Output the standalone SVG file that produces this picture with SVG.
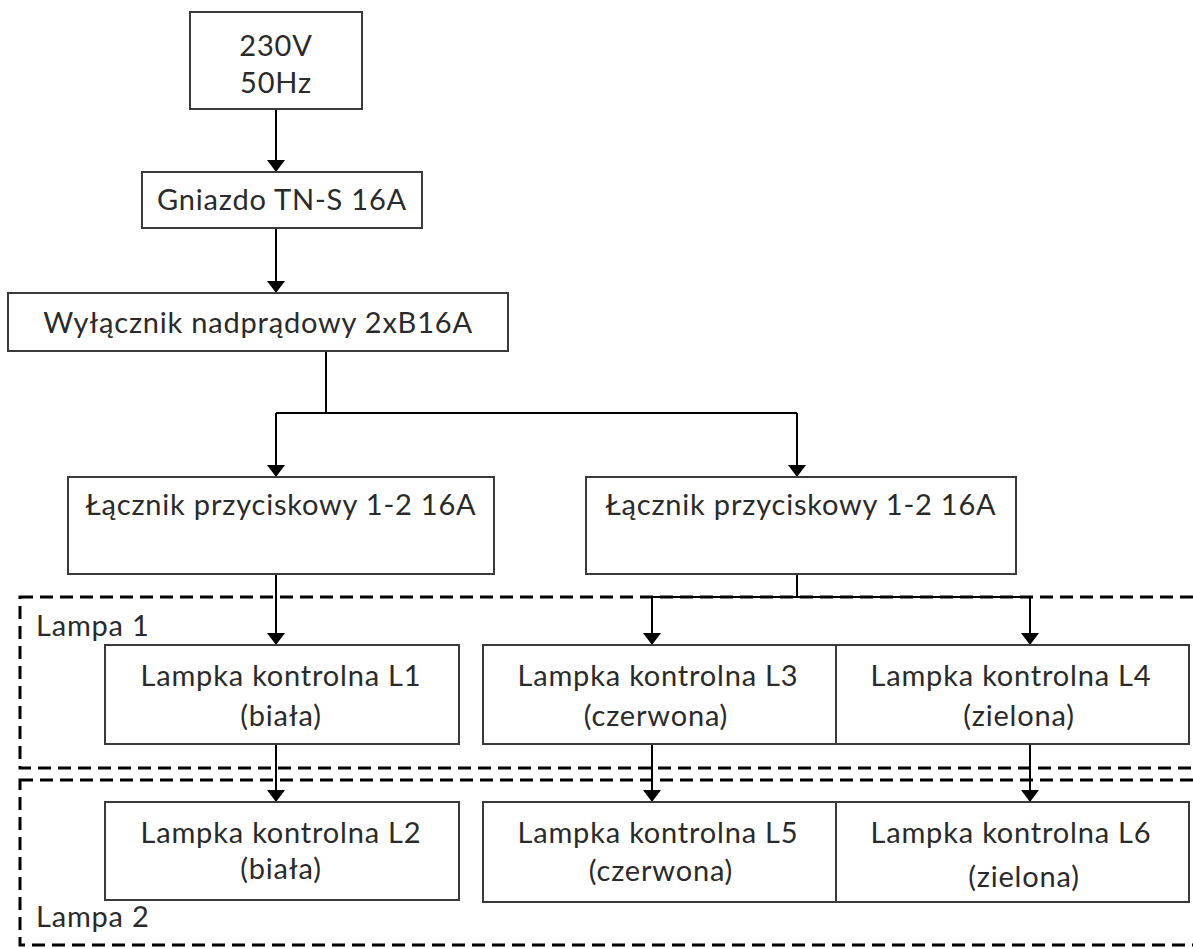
<svg xmlns="http://www.w3.org/2000/svg" width="1193" height="948" viewBox="0 0 1193 948">
<style>
.box{fill:#fff;stroke:#3a3a3a;stroke-width:2}
.t{font-family:Lato,"Noto Sans",sans-serif;font-size:29px;letter-spacing:0.8px;fill:#2a2a2a;text-anchor:middle}
.lbl{font-family:Lato,"Noto Sans",sans-serif;font-size:29px;letter-spacing:0.8px;fill:#2a2a2a}
.c{fill:none;stroke:#000;stroke-width:2}
.dash{fill:none;stroke:#000;stroke-width:3;stroke-dasharray:13 7}
</style>
<defs>
<marker id="ah" markerWidth="12" markerHeight="18" refX="12" refY="9" orient="auto" markerUnits="userSpaceOnUse" viewBox="0 0 12 18">
<path d="M0,0 L12,9 L0,18 Z" fill="#000"/>
</marker>
</defs>
<rect width="1193" height="948" fill="#fff"/>
<g id="groups">
<rect class="dash" x="20" y="597" width="1200" height="171"/>
<rect class="dash" x="20" y="780" width="1200" height="165"/>
<text class="lbl" x="36" y="636">Lampa 1</text>
<text class="lbl" x="36" y="927">Lampa 2</text>
</g>
<g id="connectors">
<line class="c" x1="276" y1="109" x2="276" y2="172" marker-end="url(#ah)"/>
<line class="c" x1="276" y1="228" x2="276" y2="293" marker-end="url(#ah)"/>
<polyline class="c" points="326,351 326,413"/>
<polyline class="c" points="276,413 797,413"/>
<line class="c" x1="276" y1="413" x2="276" y2="477" marker-end="url(#ah)"/>
<line class="c" x1="797" y1="413" x2="797" y2="477" marker-end="url(#ah)"/>
<line class="c" x1="276" y1="574" x2="276" y2="645" marker-end="url(#ah)"/>
<polyline class="c" points="797,574 797,597"/>
<polyline class="c" points="652,597 1030,597"/>
<line class="c" x1="652" y1="597" x2="652" y2="645" marker-end="url(#ah)"/>
<line class="c" x1="1030" y1="597" x2="1030" y2="645" marker-end="url(#ah)"/>
<line class="c" x1="276" y1="744" x2="276" y2="802" marker-end="url(#ah)"/>
<line class="c" x1="652" y1="744" x2="652" y2="802" marker-end="url(#ah)"/>
<line class="c" x1="1030" y1="744" x2="1030" y2="802" marker-end="url(#ah)"/>
</g>
<g id="n-zasilanie">
<rect class="box" x="190" y="12" width="172" height="97"/>
<text class="t" x="276" y="56">230V</text>
<text class="t" x="276" y="93">50Hz</text>
</g>
<g id="n-gniazdo">
<rect class="box" x="142" y="172" width="280" height="56"/>
<text class="t" x="282" y="210">Gniazdo TN-S 16A</text>
</g>
<g id="n-wylacznik">
<rect class="box" x="8" y="293" width="500" height="58"/>
<text class="t" x="258" y="333">Wyłącznik nadprądowy 2xB16A</text>
</g>
<g id="n-lacznik1">
<rect class="box" x="68" y="477" width="426" height="97"/>
<text class="t" x="281" y="515">Łącznik przyciskowy 1-2 16A</text>
</g>
<g id="n-lacznik2">
<rect class="box" x="586" y="477" width="430" height="97"/>
<text class="t" x="801" y="515">Łącznik przyciskowy 1-2 16A</text>
</g>
<g id="n-L1">
<rect class="box" x="105" y="645" width="354" height="99"/>
<text class="t" x="281" y="686">Lampka kontrolna L1</text>
<text class="t" x="281" y="726">(biała)</text>
</g>
<g id="n-L3">
<rect class="box" x="483" y="645" width="353" height="99"/>
<text class="t" x="658" y="686">Lampka kontrolna L3</text>
<text class="t" x="656" y="726">(czerwona)</text>
</g>
<g id="n-L4">
<rect class="box" x="836" y="645" width="353" height="99"/>
<text class="t" x="1011" y="686">Lampka kontrolna L4</text>
<text class="t" x="1019" y="726">(zielona)</text>
</g>
<g id="n-L2">
<rect class="box" x="105" y="802" width="354" height="98"/>
<text class="t" x="281" y="843">Lampka kontrolna L2</text>
<text class="t" x="281" y="879">(biała)</text>
</g>
<g id="n-L5">
<rect class="box" x="483" y="802" width="353" height="100"/>
<text class="t" x="658" y="843">Lampka kontrolna L5</text>
<text class="t" x="661" y="881">(czerwona)</text>
</g>
<g id="n-L6">
<rect class="box" x="836" y="802" width="353" height="100"/>
<text class="t" x="1011" y="843">Lampka kontrolna L6</text>
<text class="t" x="1024" y="887">(zielona)</text>
</g>
</svg>
